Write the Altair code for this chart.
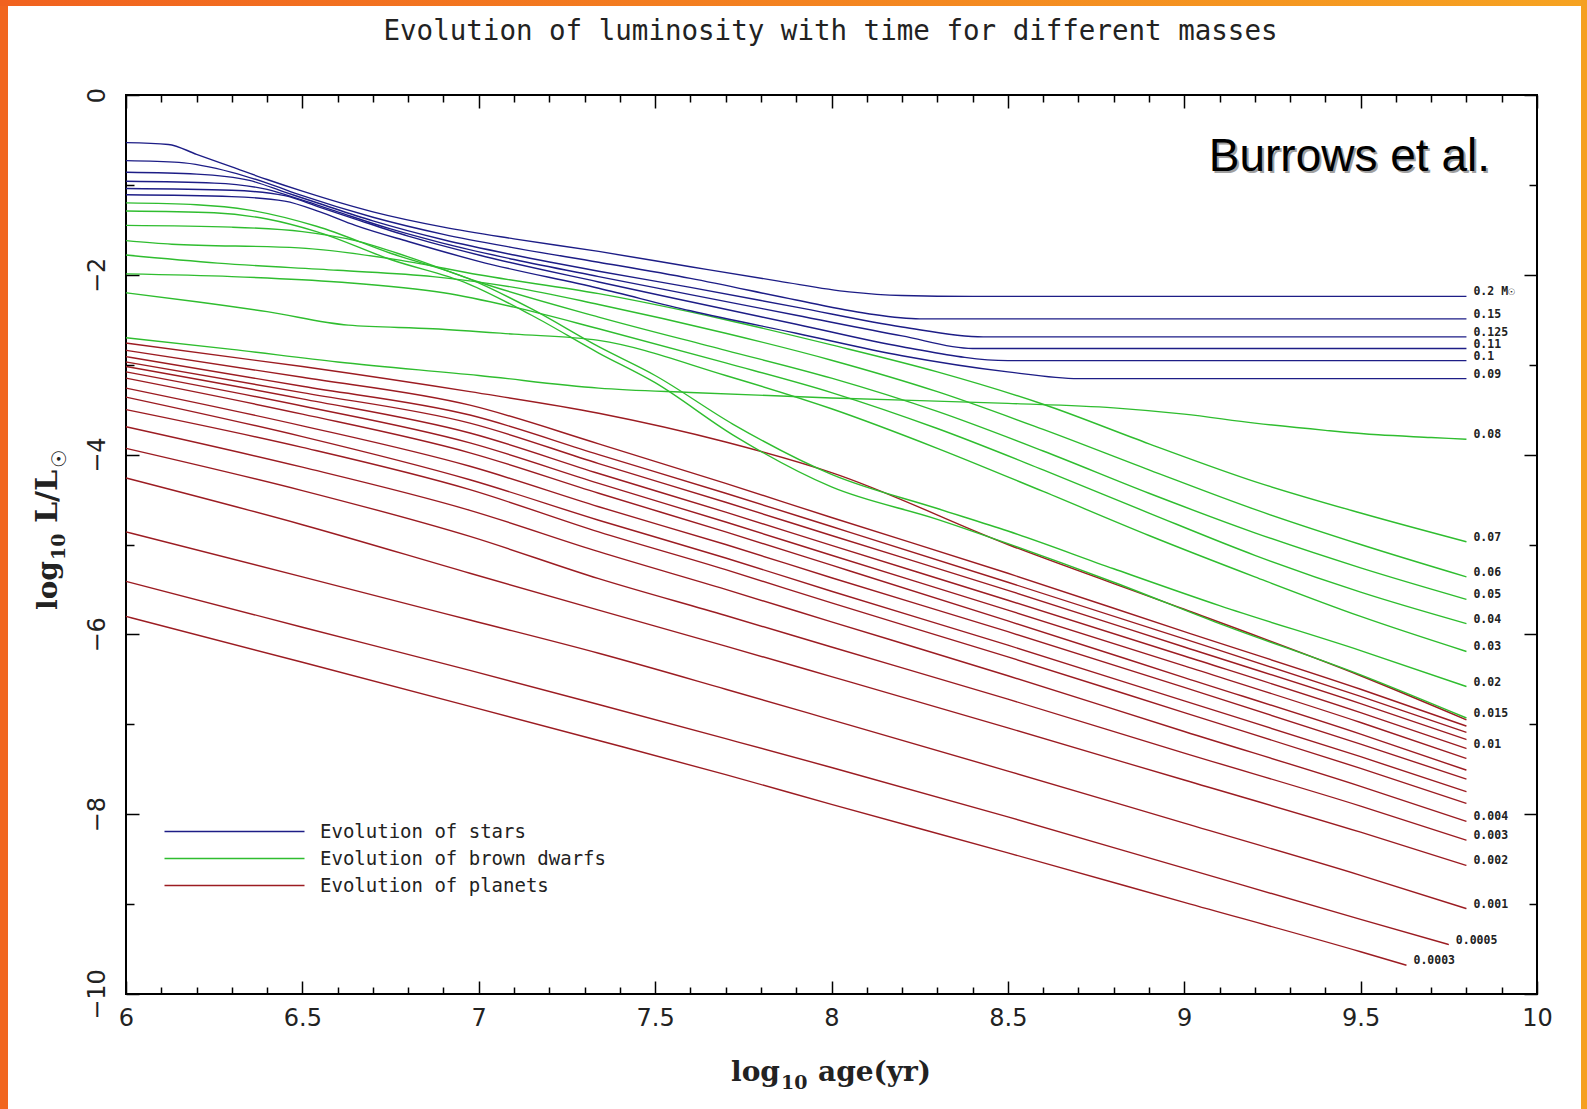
import altair as alt
import pandas as pd

# ---------------------------------------------------------------
# Luminosity tracks: log10(age / yr) vs log10(L / Lsun), one list per mass
# ---------------------------------------------------------------

STAR_MASSES = ["0.2", "0.15", "0.125", "0.11", "0.1", "0.09"]
STAR_AGES = [
    [6.0, 6.12, 6.2, 6.3, 6.4, 6.5, 6.7, 6.9, 7.1, 7.34, 7.6, 7.85, 8.05, 8.2, 8.4, 9.8],
    [6.0, 6.15, 6.3, 6.4, 6.5, 6.7, 6.9, 7.1, 7.34, 7.6, 7.9, 8.1, 8.25, 9.8],
    [6.0, 6.2, 6.35, 6.45, 6.55, 6.7, 6.9, 7.1, 7.34, 7.6, 7.9, 8.2, 8.43, 9.8],
    [6.0, 6.25, 6.4, 6.5, 6.6, 6.75, 6.9, 7.1, 7.34, 7.6, 7.9, 8.2, 8.4, 9.8],
    [6.0, 6.3, 6.45, 6.55, 6.65, 6.8, 7.0, 7.34, 7.6, 7.9, 8.2, 8.5, 9.8],
    [6.0, 6.3, 6.45, 6.55, 6.65, 6.8, 7.0, 7.34, 7.6, 7.9, 8.2, 8.5, 8.7, 9.8],
]
STAR_LUMS = [
    [-0.53, -0.55, -0.66, -0.80, -0.94, -1.07, -1.30, -1.47, -1.60, -1.74, -1.91, -2.07, -2.19, -2.23, -2.24, -2.24],
    [-0.73, -0.75, -0.86, -0.98, -1.12, -1.36, -1.55, -1.70, -1.86, -2.04, -2.28, -2.43, -2.49, -2.49],
    [-0.86, -0.88, -0.95, -1.08, -1.21, -1.40, -1.61, -1.78, -1.96, -2.14, -2.36, -2.58, -2.69, -2.69],
    [-0.96, -0.98, -1.05, -1.17, -1.30, -1.49, -1.65, -1.83, -2.02, -2.22, -2.45, -2.68, -2.82, -2.82],
    [-1.04, -1.06, -1.12, -1.25, -1.38, -1.57, -1.78, -2.08, -2.30, -2.55, -2.80, -2.955, -2.955],
    [-1.11, -1.13, -1.18, -1.30, -1.45, -1.63, -1.85, -2.15, -2.40, -2.65, -2.90, -3.08, -3.155, -3.155],
]

BD_MASSES = ["0.08", "0.07", "0.06", "0.05", "0.04", "0.03", "0.02", "0.015"]
BD_AGES = [
    [6.0, 6.3, 6.6, 7.0, 7.34, 7.6, 8.0, 8.5, 8.8, 9.0, 9.2, 9.4, 9.55, 9.7, 9.8],
    [6.0, 6.13, 6.49, 6.78, 7.0, 7.34, 7.7, 8.0, 8.3, 8.6, 8.9, 9.2, 9.5, 9.8],
    [6.0, 6.26, 6.6, 6.87, 7.1, 7.34, 7.7, 8.0, 8.3, 8.6, 8.9, 9.2, 9.5, 9.8],
    [6.0, 6.3, 6.5, 6.65, 6.8, 7.0, 7.34, 7.7, 8.0, 8.3, 8.6, 8.9, 9.2, 9.5, 9.8],
    [6.0, 6.3, 6.6, 6.9, 7.1, 7.34, 7.7, 8.0, 8.3, 8.6, 8.9, 9.2, 9.5, 9.8],
    [6.0, 6.2, 6.4, 6.63, 6.87, 7.1, 7.34, 7.7, 8.0, 8.3, 8.6, 8.9, 9.2, 9.5, 9.8],
    [6.0, 6.2, 6.35, 6.54, 6.75, 6.97, 7.15, 7.34, 7.5, 7.72, 8.0, 8.3, 8.5, 8.8, 9.1, 9.5, 9.8],
    [6.0, 6.25, 6.4, 6.54, 6.75, 6.97, 7.15, 7.34, 7.5, 7.72, 8.0, 8.3, 8.5, 8.8, 9.1, 9.5, 9.8],
]
BD_LUMS = [
    [-2.70, -2.83, -2.97, -3.12, -3.26, -3.31, -3.37, -3.43, -3.48, -3.55, -3.65, -3.73, -3.78, -3.81, -3.83],
    [-1.62, -1.66, -1.70, -1.84, -2.00, -2.21, -2.50, -2.78, -3.08, -3.44, -3.88, -4.30, -4.65, -4.97],
    [-1.78, -1.87, -1.95, -2.02, -2.14, -2.33, -2.65, -2.95, -3.30, -3.72, -4.17, -4.61, -5.00, -5.36],
    [-1.45, -1.47, -1.52, -1.62, -1.80, -2.08, -2.47, -2.84, -3.15, -3.52, -3.96, -4.43, -4.87, -5.26, -5.61],
    [-1.99, -2.02, -2.08, -2.20, -2.36, -2.60, -2.98, -3.31, -3.71, -4.17, -4.65, -5.12, -5.53, -5.88],
    [-2.20, -2.30, -2.41, -2.56, -2.60, -2.66, -2.73, -3.12, -3.49, -3.93, -4.41, -4.90, -5.36, -5.80, -6.19],
    [-1.20, -1.22, -1.28, -1.46, -1.76, -2.04, -2.38, -2.80, -3.12, -3.66, -4.22, -4.60, -4.85, -5.27, -5.68, -6.18, -6.58],
    [-1.29, -1.31, -1.38, -1.52, -1.83, -2.10, -2.45, -2.87, -3.20, -3.78, -4.36, -4.72, -4.99, -5.42, -5.88, -6.45, -6.93],
]

PLANET_MASSES = ["0.014", "0.013", "0.012", "0.011", "0.01", "0.009", "0.008", "0.007",
                 "0.006", "0.005", "0.004", "0.003", "0.002", "0.001", "0.0005", "0.0003"]
PLANET_AGES_COMMON = [6.0, 6.5, 6.975, 7.34, 7.7, 8.0, 8.5, 9.0, 9.5, 9.8]
PLANET_AGES = [PLANET_AGES_COMMON] * 14 + [
    [6.0, 6.5, 6.975, 7.34, 7.7, 8.0, 8.5, 9.0, 9.5, 9.75],
    [6.0, 6.5, 6.975, 7.34, 7.7, 8.0, 8.5, 9.0, 9.5, 9.63],
]
PLANET_LUMS = [
    [-2.76, -3.02, -3.30, -3.54, -3.86, -4.20, -5.00, -5.72, -6.46, -6.95],
    [-2.84, -3.14, -3.45, -3.88, -4.32, -4.70, -5.32, -5.97, -6.61, -7.02],
    [-2.91, -3.24, -3.56, -4.00, -4.43, -4.80, -5.42, -6.05, -6.69, -7.09],
    [-2.97, -3.31, -3.65, -4.10, -4.53, -4.90, -5.51, -6.14, -6.77, -7.17],
    [-3.02, -3.38, -3.76, -4.21, -4.64, -5.01, -5.62, -6.24, -6.87, -7.27],
    [-3.08, -3.46, -3.87, -4.32, -4.75, -5.12, -5.73, -6.35, -6.98, -7.38],
    [-3.15, -3.55, -3.98, -4.43, -4.86, -5.23, -5.85, -6.48, -7.11, -7.51],
    [-3.26, -3.68, -4.13, -4.58, -5.00, -5.37, -5.97, -6.59, -7.22, -7.61],
    [-3.36, -3.80, -4.28, -4.73, -5.15, -5.52, -6.12, -6.74, -7.36, -7.75],
    [-3.50, -3.92, -4.39, -4.86, -5.28, -5.65, -6.25, -6.87, -7.49, -7.88],
    [-3.69, -4.14, -4.62, -5.08, -5.50, -5.86, -6.46, -7.08, -7.69, -8.08],
    [-3.93, -4.40, -4.91, -5.38, -5.79, -6.14, -6.72, -7.32, -7.91, -8.29],
    [-4.26, -4.78, -5.32, -5.73, -6.13, -6.47, -7.04, -7.62, -8.20, -8.57],
    [-4.86, -5.36, -5.84, -6.21, -6.61, -6.95, -7.52, -8.10, -8.68, -9.05],
    [-5.41, -5.92, -6.40, -6.78, -7.16, -7.48, -8.03, -8.60, -9.17, -9.45],
    [-5.80, -6.31, -6.80, -7.18, -7.56, -7.89, -8.43, -8.98, -9.53, -9.68],
]

# masses written next to the end of their track
LABELED = ["0.2", "0.15", "0.125", "0.11", "0.1", "0.09",
           "0.08", "0.07", "0.06", "0.05", "0.04", "0.03", "0.02", "0.015",
           "0.01", "0.004", "0.003", "0.002", "0.001", "0.0005", "0.0003"]

GROUPS = ["Evolution of stars", "Evolution of brown dwarfs", "Evolution of planets"]
GROUP_COLORS = ["#1d1d86", "#2fbd2f", "#9c1c22"]

TITLE = "Evolution of luminosity with time for different masses"
NOTE = "Burrows et al."

# ---------------------------------------------------------------
rows, ends = [], []
for group, masses, ages, lums in [
    (GROUPS[2], PLANET_MASSES, PLANET_AGES, PLANET_LUMS),
    (GROUPS[1], BD_MASSES, BD_AGES, BD_LUMS),
    (GROUPS[0], STAR_MASSES, STAR_AGES, STAR_LUMS),
]:
    for m, a_list, l_list in zip(masses, ages, lums):
        for a, l in zip(a_list, l_list):
            rows.append({"track": group + m, "group": group, "age": a, "lum": l})
        if m in LABELED:
            text = m + " M\u2609" if m == "0.2" else m
            ends.append({"text": text, "age": a_list[-1], "lum": l_list[-1]})

tracks = pd.DataFrame(rows)
end_labels = pd.DataFrame(ends)

W, H = 1411, 899
PAD_L, PAD_T, PAD_R, PAD_B = 126, 95, 50, 115

x_scale = alt.Scale(domain=[6, 10], nice=False, zero=False)
y_scale = alt.Scale(domain=[-10, 0], nice=False, zero=False)

X_TICKS = [round(6 + 0.1 * i, 1) for i in range(41)]
Y_TICKS = list(range(-10, 1))
X_MAJOR = "abs(datum.value * 2 - round(datum.value * 2)) < 0.001"
Y_MAJOR = "datum.value % 2 == 0"

TICK_FONT = "DejaVu Sans"
SERIF = "DejaVu Serif"
MONO = "DejaVu Sans Mono"
INK = "#222"


def x_axis(orient, with_labels):
    kw = dict(
        orient=orient, values=X_TICKS, grid=False, domain=False,
        tickColor="black", tickWidth=1.5, title=None,
        tickSize={"condition": {"test": X_MAJOR, "value": -13}, "value": -7},
    )
    if with_labels:
        kw.update(
            labelExpr=f"{X_MAJOR} ? format(datum.value, '~g') : ''",
            labelFont=TICK_FONT, labelFontSize=24, labelColor=INK,
            labelPadding=25, labelOverlap=False, labelFlush=False,
        )
    else:
        kw.update(labels=False)
    return alt.Axis(**kw)


def y_axis(orient, with_labels):
    kw = dict(
        orient=orient, values=Y_TICKS, grid=False, domain=False,
        tickColor="black", tickWidth=1.5, title=None,
        tickSize={"condition": {"test": Y_MAJOR, "value": -13}, "value": -8},
    )
    if with_labels:
        kw.update(
            labelExpr=f"{Y_MAJOR} ? format(datum.value, '~g') : ''",
            labelFont=TICK_FONT, labelFontSize=24, labelColor=INK,
            labelAngle=270, labelAlign="center", labelBaseline="bottom",
            labelPadding=30, labelOverlap=False, labelFlush=False,
        )
    else:
        kw.update(labels=False)
    return alt.Axis(**kw)


legend = alt.Legend(
    orient="none", legendX=99, legendY=727, padding=0,
    symbolType="M-10,0H10", symbolSize=196, symbolStrokeWidth=1.6,
    labelOffset=76, labelFont=MONO, labelFontSize=19,
    labelColor=INK, labelLimit=500, rowPadding=7,
)

lines = alt.Chart(tracks).mark_line(strokeWidth=1.4, interpolate="monotone").encode(
    x=alt.X("age:Q", scale=x_scale, axis=x_axis("bottom", True)),
    y=alt.Y("lum:Q", scale=y_scale, axis=y_axis("left", True)),
    color=alt.Color("group:N", scale=alt.Scale(domain=GROUPS, range=GROUP_COLORS),
                    legend=legend, title=None),
    detail="track:N",
)

mass_text = alt.Chart(end_labels).mark_text(
    align="left", baseline="middle", dx=7, dy=-4,
    font=MONO, fontSize=11.5, fontWeight="bold", color=INK,
).encode(
    x=alt.X("age:Q", scale=x_scale, axis=None),
    y=alt.Y("lum:Q", scale=y_scale, axis=None),
    text="text:N",
)

# top / right frame ticks
frame_df = pd.DataFrame({"age": [6, 10], "lum": [-10, 0]})
frame_axes = alt.Chart(frame_df).mark_point(opacity=0).encode(
    x=alt.X("age:Q", scale=x_scale, axis=x_axis("top", False)),
    y=alt.Y("lum:Q", scale=y_scale, axis=y_axis("right", False)),
)


def text_piece(text, x, y, size, angle=0, color=INK, font=SERIF, weight="bold",
               align="left", dx=0, dy=0):
    df = pd.DataFrame({"t": [text]})
    return alt.Chart(df).mark_text(
        align=align, baseline="alphabetic", font=font, fontSize=size,
        fontWeight=weight, color=color, angle=angle, dx=dx, dy=dy,
    ).encode(x=alt.value(x), y=alt.value(y), text="t:N")


# chart title and axis titles (with subscripts)
title = text_piece(TITLE, W / 2 - 1, -55, 27.5, font=MONO, weight="normal", align="center")
x_title = [
    text_piece("log", 605, 986, 28),
    text_piece("10", 655, 994, 19),
    text_piece("age(yr)", 692, 986, 28),
]
y_title = [
    text_piece("log", -69, 515, 28, angle=270),
    text_piece("10", -61, 465, 19, angle=270),
    text_piece("L/L", -69, 428, 30, angle=270),
    text_piece("\u2609", -60, 373, 20, angle=270, font="DejaVu Sans", weight="normal"),
]

# attribution with a soft drop shadow
note_shadow = text_piece(NOTE, 1364, 76, 46, color="#a0a0a0", font="Liberation Sans",
                         weight="normal", align="right", dx=2, dy=2)
note = text_piece(NOTE, 1364, 76, 46, color="black", font="Liberation Sans",
                  weight="normal", align="right")

# orange page border (left, top, right strips)
strip_df = pd.DataFrame({"k": [0]})
orange = alt.Gradient(
    gradient="linear", x1=0, x2=1, y1=0, y2=0,
    stops=[alt.GradientStop(color="#f1621f", offset=0),
           alt.GradientStop(color="#f6a321", offset=1)],
)
strip_left = alt.Chart(strip_df).mark_rect(color="#f1661f").encode(
    x=alt.value(-PAD_L), x2=alt.value(-PAD_L + 8),
    y=alt.value(-PAD_T), y2=alt.value(H + PAD_B))
strip_top = alt.Chart(strip_df).mark_rect(color=orange).encode(
    x=alt.value(-PAD_L), x2=alt.value(W + PAD_R),
    y=alt.value(-PAD_T), y2=alt.value(-PAD_T + 6))
strip_right = alt.Chart(strip_df).mark_rect(color="#f5a021").encode(
    x=alt.value(W + PAD_R - 6), x2=alt.value(W + PAD_R),
    y=alt.value(-PAD_T), y2=alt.value(H + PAD_B))

chart = alt.layer(
    strip_left, strip_top, strip_right,
    lines, mass_text, frame_axes,
    title, *x_title, *y_title, note_shadow, note,
).resolve_axis(
    x="independent", y="independent"
).properties(
    width=W, height=H,
    autosize=alt.AutoSizeParams(type="none"),
    padding={"left": PAD_L, "top": PAD_T, "right": PAD_R, "bottom": PAD_B},
).configure(background="white").configure_view(stroke="black", strokeWidth=2)

chart.save("out.html", embed_options={"renderer": "svg", "actions": False})
